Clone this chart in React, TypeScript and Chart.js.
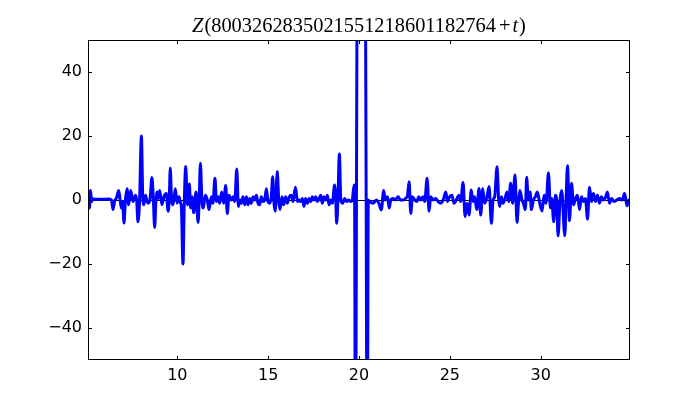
import React, { useEffect, useRef } from "react";
import { Chart, registerables } from "chart.js";

Chart.register(...registerables);

const T = [
  5.08, 5.11, 5.16, 5.22, 5.28, 5.34, 5.6, 5.9, 6.2, 6.37, 6.46, 6.56, 6.64, 6.77, 6.85, 6.92, 6.99, 7.06, 7.14, 7.23,
  7.32, 7.43, 7.56, 7.7, 7.76, 7.83, 7.92, 8.02, 8.1, 8.15, 8.24, 8.38, 8.49, 8.6, 8.68, 8.75, 8.82, 8.88, 8.95, 9.03,
  9.15, 9.26, 9.39, 9.49, 9.55, 9.61, 9.68, 9.76, 9.89, 9.98, 10.09, 10.18, 10.22, 10.31, 10.38, 10.46, 10.55, 10.66, 10.73, 10.81,
  10.9, 11.03, 11.14, 11.2, 11.27, 11.35, 11.43, 11.54, 11.65, 11.74, 11.87, 11.96, 12.07, 12.15, 12.24, 12.33, 12.44, 12.55, 12.66, 12.75,
  12.84, 12.97, 13.06, 13.16, 13.27, 13.36, 13.45, 13.52, 13.61, 13.71, 13.8, 13.89, 13.98, 14.07, 14.17, 14.26, 14.35, 14.44, 14.53, 14.62,
  14.72, 14.81, 14.9, 14.99, 15.08, 15.17, 15.25, 15.32, 15.39, 15.5, 15.58, 15.65, 15.76, 15.85, 15.96, 16.05, 16.16, 16.27, 16.37, 16.5,
  16.61, 16.7, 16.79, 16.88, 16.97, 17.06, 17.16, 17.25, 17.34, 17.43, 17.52, 17.61, 17.71, 17.8, 17.89, 17.98, 18.07, 18.17, 18.26, 18.35,
  18.44, 18.53, 18.66, 18.72, 18.77, 18.84, 18.92, 19.0, 19.1, 19.21, 19.32, 19.43, 19.54, 19.63, 19.73, 19.76, 19.79, 19.83, 19.86, 19.89,
  19.98, 20.14, 20.3, 20.36, 20.395, 20.43, 20.47, 20.51, 20.59, 20.78, 20.96, 21.09, 21.23, 21.36, 21.45, 21.57, 21.66, 21.75, 21.88, 22.01,
  22.15, 22.28, 22.43, 22.57, 22.67, 22.76, 22.85, 22.94, 23.07, 23.18, 23.29, 23.4, 23.51, 23.62, 23.75, 23.86, 23.95, 24.08, 24.21, 24.36,
  24.48, 24.63, 24.78, 24.87, 24.99, 25.12, 25.23, 25.36, 25.49, 25.6, 25.73, 25.84, 25.95, 26.06, 26.18, 26.28, 26.37, 26.48, 26.61, 26.7,
  26.81, 26.92, 27.03, 27.16, 27.29, 27.38, 27.47, 27.6, 27.69, 27.75, 27.84, 27.93, 28.02, 28.15, 28.24, 28.35, 28.46, 28.59, 28.7, 28.79,
  28.86, 28.97, 29.05, 29.16, 29.23, 29.32, 29.42, 29.49, 29.6, 29.71, 29.82, 29.95, 30.08, 30.19, 30.3, 30.43, 30.54, 30.61, 30.72, 30.81,
  30.89, 30.96, 31.07, 31.16, 31.33, 31.4, 31.48, 31.59, 31.7, 31.81, 31.92, 32.03, 32.14, 32.25, 32.36, 32.47, 32.58, 32.69, 32.8, 32.91,
  33.02, 33.13, 33.24, 33.35, 33.46, 33.55, 33.68, 33.79, 33.9, 34.05, 34.19, 34.34, 34.49, 34.62, 34.76, 34.86, 34.92,
];

const Z = [
  0.5, 2.8, -2.5, 3, -0.5, 0.3, 0.2, 0.2, 0.3, 0, -3, 0, 0.5, 3, 0, -2.5, -0.5, -7.2, 0, 3.5,
  -1.5, 3, -0.5, 1.5, 0, -6.8, 0, 20, 0, -1.5, 1.5, -1, 0, 7, 0, -8.6, 0, 2.5, 0.5, 3,
  -1.5, 1, 2, -3.5, 0, 10, 0, -1.5, 3.5, -1, 1, -1, -2, -20, -1, 10.5, -1.5, 5, -2.5, 1,
  -4, 2.5, -7, 0, 11.5, 0, -2.5, 1.5, 0, -3, 1, -1, 6.8, -0.5, 1, -1, 2.5, -1, 4.5, -4.2,
  1.5, 0, 1, -0.5, 9.7, -2, 0, -1, 1, -1.5, 1, -1.5, 0.5, -1, 1, 0, 1.5, -1, -1.5, 1,
  -0.5, 0, 3.5, -0.5, -1, 1, 7.3, -1, -3.5, 8.9, 0, -3, 1, -1.5, 1, -1, 1, 1.5, -0.5, 4,
  -0.5, 0, -0.5, 0.5, -2, 0.5, -1, 0.5, -0.5, 1, 0, 1, -0.5, 0.5, 1.5, -1, 1, 0, 1.5, -1.5,
  0, -1, 4.7, 0, -7.3, 0, 14.4, 0, -1, 0.5, -0.5, 0, -0.5, 0, 4.7, 0, -60, -60, 0, 60,
  160, 260, 160, 60, 0, -60, -60, 0, -0.5, -1, 0, -1, -3.1, 3, 0, 1, -2.5, 0, 0.5, 0,
  1, 0, 0, 0.5, 1.5, 5.7, -4.2, 1, 0, -0.5, 1, 0, 1, -0.5, 6.8, -3.5, 1, 0, 0.5, -0.5,
  -1, 0, 2.5, -0.5, 1, 1.5, -1, 0, 1.5, -0.5, 5.5, -5.2, -1, -4.7, 3.1, -0.5, 1, -3, 3.6, -4.7,
  3.5, -1, 0.5, 4.2, -7.3, 0, 1, 10.4, 0, -2, 1, -1, 0, 2.5, -0.5, 5.2, -1, 7.8, -7, 0,
  3, 0, -1, -3, 7.1, 0, 2.5, -3, 0, 1, 2.5, -1, -3.4, 1.5, -1, 8.5, -2.5, 0.5, -6.8, 1.5,
  -0.5, -11.2, 0, 3, -11.2, 0, 10.7, -6.5, 5.2, -1.5, 0.5, 1.5, -3, 1, -0.5, 0.5, -6, 4, -0.5, 2,
  -0.5, 1.5, -1, 1, 0, 0.5, 2.5, -1, 0.5, -0.5, 0, 0.5, 0, 2, -1.8, 0, -0.5,
];

const X_TICKS = [10, 15, 20, 25, 30];
const Y_TICKS = [-40, -20, 0, 20, 40];
const TITLE_NUMBER = "8003262835021551218601182764";

const framePlugin = {
  id: "mplFrame",
  beforeDatasetsDraw(chart: any) {
    const { ctx, chartArea, scales } = chart;
    const y0 = Math.round(scales.y.getPixelForValue(0)) + 0.5;
    ctx.save();
    ctx.strokeStyle = "#000";
    ctx.lineWidth = 1;
    ctx.beginPath();
    ctx.moveTo(chartArea.left, y0);
    ctx.lineTo(chartArea.right, y0);
    ctx.stroke();
    ctx.restore();
  },
  afterDatasetsDraw(chart: any) {
    const { ctx, chartArea, scales } = chart;
    const { left, right, top, bottom } = chartArea;
    ctx.save();
    ctx.strokeStyle = "#000";
    ctx.lineWidth = 1;
    ctx.strokeRect(Math.round(left) + 0.5, Math.round(top) + 0.5, Math.round(right - left) - 1, Math.round(bottom - top) - 1);
    ctx.beginPath();
    const tl = 4;
    X_TICKS.forEach((v) => {
      const px = Math.round(scales.x.getPixelForValue(v)) + 0.5;
      ctx.moveTo(px, bottom);
      ctx.lineTo(px, bottom - tl);
      ctx.moveTo(px, top);
      ctx.lineTo(px, top + tl);
    });
    Y_TICKS.forEach((v) => {
      const py = Math.round(scales.y.getPixelForValue(v)) + 0.5;
      ctx.moveTo(left, py);
      ctx.lineTo(left + tl, py);
      ctx.moveTo(right, py);
      ctx.lineTo(right - tl, py);
    });
    ctx.stroke();
    ctx.restore();
  },
  afterDraw(chart: any) {
    const { ctx, chartArea } = chart;
    const size = 20.4;
    const it = `italic ${size}px "Liberation Serif"`;
    const up = `${size}px "Liberation Serif"`;
    const parts: [string, string, number][] = [
      ["Z", it, 1],
      ["(" + TITLE_NUMBER, up, 3],
      ["+", up, 2],
      ["t", it, 1],
      [")", up, 0],
    ];
    ctx.save();
    ctx.fillStyle = "#000";
    ctx.textBaseline = "alphabetic";
    let total = 0;
    parts.forEach(([s, f, gap]) => {
      ctx.font = f;
      total += ctx.measureText(s).width + gap;
    });
    let x = (chartArea.left + chartArea.right) / 2 - total / 2;
    const y = 32;
    parts.forEach(([s, f, gap]) => {
      ctx.font = f;
      ctx.fillText(s, x, y);
      x += ctx.measureText(s).width + gap;
    });
    ctx.restore();
  },
};

export default function App() {
  const ref = useRef<HTMLCanvasElement | null>(null);
  useEffect(() => {
    if (!ref.current) return;
    const tickFont = { family: '"DejaVu Sans", sans-serif', size: 16 };
    const chart = new Chart(ref.current, {
      type: "line",
      data: {
        datasets: [
          {
            data: T.map((t, i) => ({ x: t, y: Z[i] })),
            borderColor: "#0000ff",
            borderWidth: 3,
            pointRadius: 0,
            fill: false,
            cubicInterpolationMode: "monotone",
            borderJoinStyle: "round",
          },
        ],
      },
      options: {
        animation: false,
        responsive: false,
        maintainAspectRatio: false,
        layout: { padding: { left: 0, right: 70, top: 40, bottom: 0 } },
        plugins: { legend: { display: false }, title: { display: false }, tooltip: { enabled: false } },
        scales: {
          x: {
            type: "linear",
            min: 5.08,
            max: 34.92,
            grid: { display: false, drawTicks: false },
            border: { display: false },
            afterBuildTicks: (s: any) => {
              s.ticks = X_TICKS.map((v) => ({ value: v }));
            },
            afterFit: (s: any) => {
              s.height = 40;
            },
            ticks: {
              autoSkip: false,
              maxRotation: 0,
              padding: 6,
              color: "#000",
              font: tickFont,
              callback: (v: any) => String(v),
            },
          },
          y: {
            type: "linear",
            min: -50,
            max: 50,
            grid: { display: false, drawTicks: false },
            border: { display: false },
            afterBuildTicks: (s: any) => {
              s.ticks = Y_TICKS.map((v) => ({ value: v }));
            },
            afterFit: (s: any) => {
              s.width = 88;
            },
            ticks: {
              padding: 6,
              color: "#000",
              font: tickFont,
              callback: (v: any) => (Number(v) < 0 ? "\u2212" + Math.abs(Number(v)) : String(v)),
            },
          },
        },
      },
      plugins: [framePlugin],
    } as any);
    return () => chart.destroy();
  }, []);
  return (
    <div style={{ position: "absolute", left: 0, top: 0, width: 700, height: 400, background: "#fff" }}>
      <canvas ref={ref} width={700} height={400} style={{ display: "block", width: 700, height: 400 }} />
    </div>
  );
}
